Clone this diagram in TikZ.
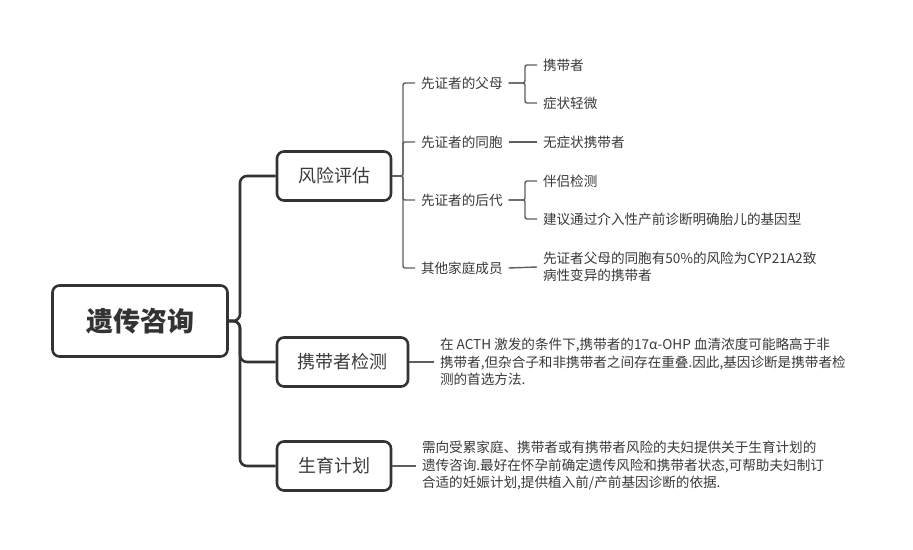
\documentclass[tikz,border=0pt]{standalone}
\usepackage{fontspec}
\setmainfont{Noto Sans CJK SC}
\usepackage{tikz}
\definecolor{boxgray}{HTML}{333333}
\definecolor{linegray}{HTML}{5E5E5E}
\definecolor{textgray}{HTML}{3A3A3A}

\begin{document}
\begin{tikzpicture}[
    x=1pt, y=-1pt,
    root node/.style={draw=boxgray, line width=2.6pt, rounded corners=7pt, minimum width=175pt, minimum height=71pt, text=boxgray, font=\fontsize{27}{30}\selectfont\bfseries},
    topic node/.style={draw=boxgray, line width=2.6pt, rounded corners=7pt, minimum height=49pt, text=textgray, font=\fontsize{18}{20}\selectfont},
    item node/.style={anchor=west, inner sep=3pt, outer sep=3pt, text=textgray, font=\fontsize{13.6}{17.5}\selectfont},
    note node/.style={item node, align=left},
    trunk line/.style={draw=boxgray, line width=2.6pt, rounded corners=7pt},
    branch line/.style={draw=linegray, line width=1.4pt, rounded corners=2pt}
]
    \useasboundingbox[fill=white] (0,0) rectangle (913,549);

    \node[root node] (root) at (140,321) {遗传咨询};
    \node[topic node, minimum width=114pt] (risk) at (334,176) {风险评估};
    \node[topic node, minimum width=131pt] (carrier) at (342.5,362) {携带者检测};
    \node[topic node, minimum width=114pt] (plan) at (334,466) {生育计划};

    % risk assessment
    \node[item node] (parents) at (415,83) {先证者的父母};
    \node[item node] (sibs) at (415,142) {先证者的同胞};
    \node[item node] (offspring) at (415,200) {先证者的后代};
    \node[item node] (family) at (415,268) {其他家庭成员};

    \node[item node] (carrier1) at (537,65) {携带者};
    \node[item node] (mild) at (537,103) {症状轻微};
    \node[item node] (carrier2) at (537,142) {无症状携带者};
    \node[item node] (partner) at (537,181) {伴侣检测};
    \node[item node] (prenatal) at (537,219) {建议通过介入性产前诊断明确胎儿的基因型};
    \node[note node] (aunts) at (537,267) {先证者父母的同胞有50\%的风险为CYP21A2致\\病性变异的携带者};

    % notes
    \node[note node] (carriertext) at (434,362) {在 ACTH 激发的条件下,携带者的17α-OHP 血清浓度可能略高于非\\携带者,但杂合子和非携带者之间存在重叠.因此,基因诊断是携带者检\\测的首选方法.};
    \node[note node] (plantext) at (416,466) {需向受累家庭、携带者或有携带者风险的夫妇提供关于生育计划的\\遗传咨询.最好在怀孕前确定遗传风险和携带者状态,可帮助夫妇制订\\合适的妊娠计划,提供植入前/产前基因诊断的依据.};

    \foreach \t in {risk,carrier,plan}
        \draw[trunk line] (root.east) -- (240,321) |- (\t.west);

    \foreach \p in {parents,sibs,offspring,family}
        \draw[branch line] (risk.east) -- (403,176) |- (\p.west);

    \draw[branch line] (parents.east) -- (525,83) |- (carrier1.west);
    \draw[branch line] (parents.east) -- (525,83) |- (mild.west);
    \draw[branch line] (sibs.east) -- (carrier2.west);
    \draw[branch line] (offspring.east) -- (525,200) |- (partner.west);
    \draw[branch line] (offspring.east) -- (525,200) |- (prenatal.west);
    \draw[branch line] (family.east) -- (aunts.west);

    \draw[branch line] (carrier.east) -- (carriertext.west);
    \draw[branch line] (plan.east) -- (plantext.west);
\end{tikzpicture}
\end{document}
